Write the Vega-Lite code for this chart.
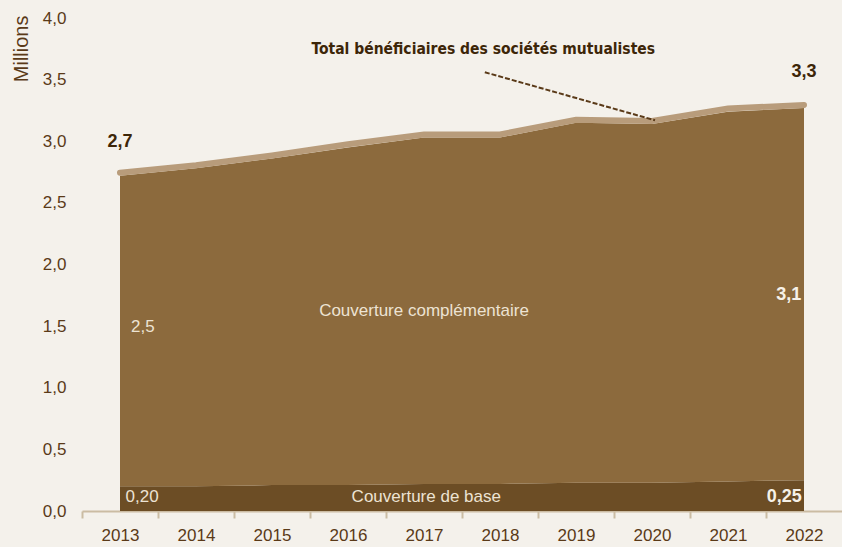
{
  "$schema": "https://vega.github.io/schema/vega-lite/v6.json",
  "autosize": {"type": "none"},
  "padding": {"left": 82, "top": 18, "right": 0, "bottom": 36},
  "width": 760,
  "height": 493,
  "background": "#f4f1eb",
  "config": {
    "view": {"stroke": null},
    "font": "Liberation Sans"
  },
  "datasets": {
    "series": [
      {"year": 2013, "serie": "Couverture de base", "ordre": 1, "value": 0.20},
      {"year": 2014, "serie": "Couverture de base", "ordre": 1, "value": 0.20},
      {"year": 2015, "serie": "Couverture de base", "ordre": 1, "value": 0.21},
      {"year": 2016, "serie": "Couverture de base", "ordre": 1, "value": 0.21},
      {"year": 2017, "serie": "Couverture de base", "ordre": 1, "value": 0.22},
      {"year": 2018, "serie": "Couverture de base", "ordre": 1, "value": 0.22},
      {"year": 2019, "serie": "Couverture de base", "ordre": 1, "value": 0.23},
      {"year": 2020, "serie": "Couverture de base", "ordre": 1, "value": 0.23},
      {"year": 2021, "serie": "Couverture de base", "ordre": 1, "value": 0.24},
      {"year": 2022, "serie": "Couverture de base", "ordre": 1, "value": 0.25},
      {"year": 2013, "serie": "Couverture complémentaire", "ordre": 2, "value": 2.52},
      {"year": 2014, "serie": "Couverture complémentaire", "ordre": 2, "value": 2.58},
      {"year": 2015, "serie": "Couverture complémentaire", "ordre": 2, "value": 2.65},
      {"year": 2016, "serie": "Couverture complémentaire", "ordre": 2, "value": 2.74},
      {"year": 2017, "serie": "Couverture complémentaire", "ordre": 2, "value": 2.81},
      {"year": 2018, "serie": "Couverture complémentaire", "ordre": 2, "value": 2.81},
      {"year": 2019, "serie": "Couverture complémentaire", "ordre": 2, "value": 2.92},
      {"year": 2020, "serie": "Couverture complémentaire", "ordre": 2, "value": 2.91},
      {"year": 2021, "serie": "Couverture complémentaire", "ordre": 2, "value": 3.00},
      {"year": 2022, "serie": "Couverture complémentaire", "ordre": 2, "value": 3.02}
    ],
    "total": [
      {"year": 2013, "total": 2.745},
      {"year": 2014, "total": 2.805},
      {"year": 2015, "total": 2.885},
      {"year": 2016, "total": 2.975},
      {"year": 2017, "total": 3.055},
      {"year": 2018, "total": 3.055},
      {"year": 2019, "total": 3.175},
      {"year": 2020, "total": 3.165},
      {"year": 2021, "total": 3.265},
      {"year": 2022, "total": 3.295}
    ],
    "labels": [
      {"x": 2013, "y": 2.99, "text": "2,7", "kind": "total"},
      {"x": 2022, "y": 3.56, "text": "3,3", "kind": "total"},
      {"x": 2013.3, "y": 1.49, "text": "2,5", "kind": "light"},
      {"x": 2013.29, "y": 0.11, "text": "0,20", "kind": "light"},
      {"x": 2021.8, "y": 1.75, "text": "3,1", "kind": "bold"},
      {"x": 2021.74, "y": 0.11, "text": "0,25", "kind": "bold"},
      {"x": 2017.0, "y": 1.62, "text": "Couverture complémentaire", "kind": "light"},
      {"x": 2017.03, "y": 0.11, "text": "Couverture de base", "kind": "light"}
    ],
    "annotation": [
      {"x": 2017.78, "y": 3.75, "text": "Total bénéficiaires des sociétés mutualistes", "x1": 2017.8, "y1": 3.56, "x2": 2020.04, "y2": 3.17}
    ]
  },
  "layer": [
    {
      "data": {"name": "series"},
      "mark": {"type": "area", "interpolate": "linear"},
      "encoding": {
        "x": {
          "field": "year", "type": "quantitative",
          "scale": {"domain": [2012.5, 2022.5], "nice": false, "zero": false},
          "axis": {
            "title": null,
            "values": [2013, 2014, 2015, 2016, 2017, 2018, 2019, 2020, 2021, 2022],
            "format": "d",
            "grid": false,
            "tickOffset": -38,
            "labelOffset": 38,
            "tickSize": 7,
            "tickWidth": 2,
            "tickColor": "#cbbca3",
            "domainColor": "#cbbca3",
            "domainWidth": 2,
            "labelFont": "Liberation Sans",
            "labelFontSize": 17,
            "labelColor": "#5a3a18",
            "labelPadding": 9
          }
        },
        "y": {
          "field": "value", "type": "quantitative", "stack": "zero",
          "scale": {"domain": [0, 4], "nice": false},
          "axis": {
            "title": "Millions",
            "titleAnchor": "end",
            "titleFont": "Liberation Sans",
            "titleFontSize": 20,
            "titleFontWeight": "normal",
            "titleColor": "#5a3a18",
            "titlePadding": 11,
            "titleY": -3,
            "values": [0, 0.5, 1, 1.5, 2, 2.5, 3, 3.5, 4],
            "labelExpr": "replace(format(datum.value, '.1f'), '.', ',')",
            "grid": false,
            "ticks": false,
            "domain": false,
            "labelFont": "Liberation Sans",
            "labelFontSize": 17,
            "labelColor": "#5a3a18",
            "labelPadding": 16
          }
        },
        "color": {
          "field": "serie", "type": "nominal",
          "scale": {"domain": ["Couverture de base", "Couverture complémentaire"], "range": ["#6c4d25", "#8c6a3d"]},
          "legend": null
        },
        "order": {"field": "ordre", "type": "quantitative"}
      }
    },
    {
      "data": {"name": "total"},
      "mark": {"type": "line", "color": "#b89c7b", "strokeWidth": 6, "strokeCap": "round"},
      "encoding": {
        "x": {"field": "year", "type": "quantitative"},
        "y": {"field": "total", "type": "quantitative"}
      }
    },
    {
      "data": {"name": "labels"},
      "transform": [{"filter": "datum.kind == 'total'"}],
      "mark": {"type": "text", "fontSize": 18, "fontWeight": "bold", "color": "#3d2608", "font": "Liberation Sans"},
      "encoding": {
        "x": {"field": "x", "type": "quantitative"},
        "y": {"field": "y", "type": "quantitative"},
        "text": {"field": "text"}
      }
    },
    {
      "data": {"name": "labels"},
      "transform": [{"filter": "datum.kind == 'light'"}],
      "mark": {"type": "text", "fontSize": 17, "color": "#ede3d3", "font": "Liberation Sans"},
      "encoding": {
        "x": {"field": "x", "type": "quantitative"},
        "y": {"field": "y", "type": "quantitative"},
        "text": {"field": "text"}
      }
    },
    {
      "data": {"name": "labels"},
      "transform": [{"filter": "datum.kind == 'bold'"}],
      "mark": {"type": "text", "fontSize": 18, "fontWeight": "bold", "color": "#f6f1e8", "font": "Liberation Sans"},
      "encoding": {
        "x": {"field": "x", "type": "quantitative"},
        "y": {"field": "y", "type": "quantitative"},
        "text": {"field": "text"}
      }
    },
    {
      "data": {"name": "annotation"},
      "mark": {"type": "rule", "color": "#5a3a18", "strokeWidth": 2, "strokeDash": [5, 2]},
      "encoding": {
        "x": {"field": "x1", "type": "quantitative"},
        "y": {"field": "y1", "type": "quantitative"},
        "x2": {"field": "x2"},
        "y2": {"field": "y2"}
      }
    },
    {
      "data": {"name": "annotation"},
      "mark": {"type": "text", "fontSize": 15.5, "fontWeight": "bold", "color": "#3d2608", "font": "DejaVu Sans Condensed, Liberation Sans, sans-serif"},
      "encoding": {
        "x": {"field": "x", "type": "quantitative"},
        "y": {"field": "y", "type": "quantitative"},
        "text": {"field": "text"}
      }
    }
  ]
}
